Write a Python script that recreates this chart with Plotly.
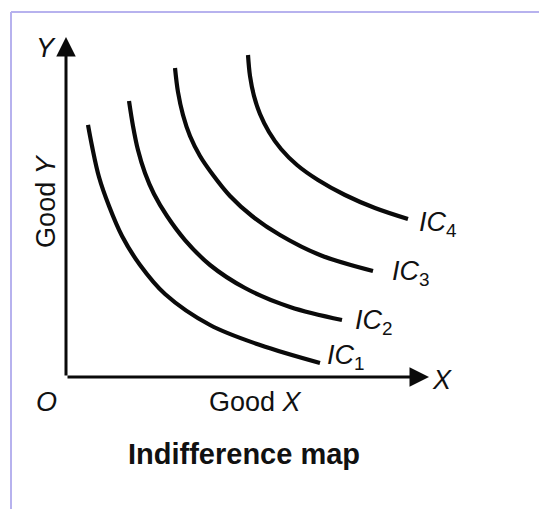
import plotly.graph_objects as go

# ---- data (Good X / Good Y units, axes run 0..100) ----
ic1_x = [6.06, 7.16, 9.09, 11.85, 15.43, 20.39, 27.27, 39.67, 53.44, 69.97]
ic1_y = [74.12, 67.94, 58.82, 50.29, 41.47, 32.94, 24.41, 15.29, 9.41, 4.12]

ic2_x = [17.36, 18.46, 19.83, 21.76, 24.24, 27.82, 32.78, 39.67, 49.31, 61.71, 76.03]
ic2_y = [81.18, 73.82, 66.76, 60.0, 53.82, 47.35, 40.29, 32.94, 26.18, 20.59, 16.76]

ic3_x = [30.03, 30.85, 32.23, 34.16, 36.91, 40.50, 45.18, 51.24, 58.95, 69.97, 84.57]
ic3_y = [90.88, 83.82, 77.06, 70.88, 65.0, 59.41, 53.24, 47.35, 41.76, 35.88, 31.18]

ic4_x = [50.14, 50.69, 51.79, 53.44, 55.92, 59.23, 63.64, 69.42, 76.86, 85.12, 94.21]
ic4_y = [94.71, 88.53, 82.65, 77.35, 72.06, 67.06, 62.35, 57.94, 53.53, 49.71, 46.47]

curve_names = ["1", "2", "3", "4"]
axis_max = 100
x_axis_title = "Good "
y_axis_title = "Good "
caption = "Indifference map"

curves = [(ic1_x, ic1_y), (ic2_x, ic2_y), (ic3_x, ic3_y), (ic4_x, ic4_y)]
label_shift = [(5, 6), (11, -2), (17, -2), (9, -5)]

FONT = "Liberation Sans, Arial, sans-serif"
W, H = 539, 509
fig = go.Figure()

for (xs, ys) in curves:
    fig.add_trace(go.Scatter(x=xs, y=ys, mode="lines",
                             line=dict(color="#0a0a0a", width=4.2, shape="spline", smoothing=1.0),
                             hoverinfo="skip", showlegend=False))

# curve labels
for (xs, ys), name, (dx, dy) in zip(curves, curve_names, label_shift):
    fig.add_annotation(x=xs[-1], y=ys[-1], xref="x", yref="y", showarrow=False,
                       text="<i>IC</i><sub>" + name + "</sub>",
                       xanchor="left", yanchor="middle", xshift=dx, yshift=dy,
                       font=dict(family=FONT, size=27, color="#111"))

# axes with arrows
fig.add_annotation(x=0, y=axis_max, ax=0, ay=0, xref="x", yref="y", axref="x", ayref="y",
                   showarrow=True, arrowhead=2, arrowsize=1.3, arrowwidth=3,
                   arrowcolor="#0a0a0a", text="")
fig.add_annotation(x=axis_max, y=0, ax=0, ay=0, xref="x", yref="y", axref="x", ayref="y",
                   showarrow=True, arrowhead=2, arrowsize=1.3, arrowwidth=3,
                   arrowcolor="#0a0a0a", text="")

txt = dict(family=FONT, size=27, color="#111")
fig.add_annotation(x=0, y=axis_max, xref="x", yref="y", text="<i>Y</i>", showarrow=False,
                   xanchor="center", yanchor="middle", xshift=-20, yshift=-11, font=txt)
fig.add_annotation(x=axis_max, y=0, xref="x", yref="y", text="<i>X</i>", showarrow=False,
                   xanchor="left", yanchor="middle", xshift=1, yshift=-3, font=txt)
fig.add_annotation(x=0, y=0, xref="x", yref="y", text="<i>O</i>", showarrow=False,
                   xanchor="center", yanchor="middle", xshift=-20, yshift=-25, font=txt)
fig.add_annotation(x=axis_max * 0.523, y=0, xref="x", yref="y",
                   text=x_axis_title + "<i>X</i>", showarrow=False,
                   xanchor="center", yanchor="middle", yshift=-25, font=txt)
fig.add_annotation(x=0, y=axis_max * 0.518, xref="x", yref="y",
                   text=y_axis_title + "<i>Y</i>", showarrow=False, textangle=-90,
                   xanchor="center", yanchor="middle", xshift=-20, font=txt)
fig.add_annotation(x=244 / W, y=1 - 454 / H, xref="paper", yref="paper",
                   text="<b>" + caption + "</b>", showarrow=False,
                   xanchor="center", yanchor="middle",
                   font=dict(family=FONT, size=29, color="#111"))

# frame
frame_col = "#b7b2ee"
fig.add_shape(type="line", xref="paper", yref="paper", x0=11 / W, x1=11 / W,
              y0=0, y1=1 - 12 / H, line=dict(color=frame_col, width=2))
fig.add_shape(type="line", xref="paper", yref="paper", x0=11 / W, x1=1,
              y0=1 - 12 / H, y1=1 - 12 / H, line=dict(color=frame_col, width=2))

pxx, pxy = 3.63, 3.4
ox, oy = 66, 377
fig.update_layout(
    width=W, height=H, margin=dict(l=0, r=0, t=0, b=0),
    paper_bgcolor="white", plot_bgcolor="white",
    xaxis=dict(range=[-ox / pxx, (W - ox) / pxx], visible=False, fixedrange=True),
    yaxis=dict(range=[(oy - H) / pxy, oy / pxy], visible=False, fixedrange=True),
    showlegend=False,
)
fig.write_html("out.html", config={"displayModeBar": False},
               post_script="document.body.style.margin='0';document.body.style.overflow='hidden';")
